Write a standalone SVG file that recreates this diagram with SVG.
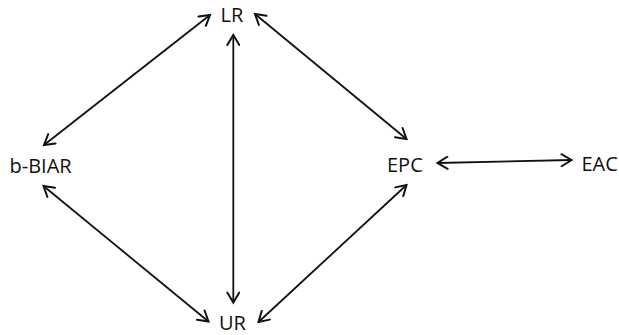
<svg xmlns="http://www.w3.org/2000/svg" width="619" height="335" viewBox="0 0 619 335">
  <style>
    .label { font-family: "Open Sans", "Liberation Sans", sans-serif; font-size: 20px; fill: #111; }
    .edge { stroke: #111; stroke-width: 1.8; fill: none; marker-start: url(#head); marker-end: url(#head); }
  </style>
  <defs>
    <marker id="head" viewBox="-12 -7 14 14" markerWidth="14" markerHeight="14" refX="0" refY="0" markerUnits="userSpaceOnUse" orient="auto-start-reverse">
      <path d="M-10,-6 L0,0 L-10,6" fill="none" stroke="#111" stroke-width="2" stroke-linecap="round" stroke-linejoin="miter"/>
    </marker>
  </defs>
  <rect width="619" height="335" fill="#fff"/>
  <g id="connectors">
    <line class="edge" x1="210" y1="15" x2="44" y2="145"/>
    <line class="edge" x1="233.3" y1="35" x2="233.3" y2="302.5"/>
    <line class="edge" x1="255" y1="14" x2="406.5" y2="139"/>
    <line class="edge" x1="437.5" y1="163" x2="571.5" y2="160"/>
    <line class="edge" x1="43.5" y1="186" x2="208.5" y2="321.5"/>
    <line class="edge" x1="258.5" y1="322" x2="406.5" y2="185"/>
  </g>
  <g id="node-LR"><text class="label" x="220.5" y="22">LR</text></g>
  <g id="node-bBIAR"><text class="label" x="9.5" y="173">b-BIAR</text></g>
  <g id="node-EPC"><text class="label" x="387" y="172">EPC</text></g>
  <g id="node-EAC"><text class="label" x="581.5" y="171">EAC</text></g>
  <g id="node-UR"><text class="label" x="219" y="329.5">UR</text></g>
</svg>
